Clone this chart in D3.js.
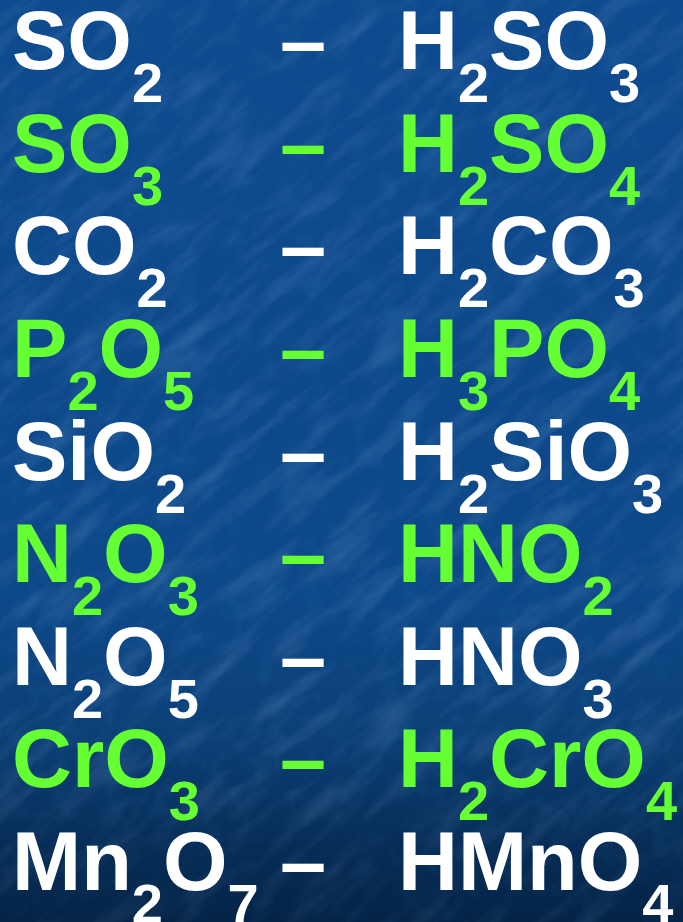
<!DOCTYPE html>
<html>
<head>
<meta charset="utf-8">
<script src="https://cdn.jsdelivr.net/npm/d3@7"></script>
<style>
  html, body { margin: 0; padding: 0; background: #0d4a8e; overflow: hidden; }
  #slide { width: 683px; height: 922px; }
  text { font-family: "Liberation Sans", Arial, sans-serif; font-weight: bold; }
</style>
</head>
<body>
<div id="slide"></div>
<script>
(function () {
// Oxide -> acid pairs, one per row
const oxides = ["SO2", "SO3", "CO2", "P2O5", "SiO2", "N2O3", "N2O5", "CrO3", "Mn2O7"];
const acids  = ["H2SO3", "H2SO4", "H2CO3", "H3PO4", "H2SiO3", "HNO2", "HNO3", "H2CrO4", "HMnO4"];
const highlighted = [false, true, false, true, false, true, false, true, false];

const width = 683, height = 922;
const mainSize = 83, subSize = 56, subShift = 33;
const white = "#ffffff", green = "#66ff33";

const svg = d3.select("#slide").append("svg")
  .attr("width", width)
  .attr("height", height)
  .attr("viewBox", `0 0 ${width} ${height}`);

const defs = svg.append("defs");

// background: blue, darker towards the bottom
const grad = defs.append("linearGradient")
  .attr("id", "bg").attr("x1", 0).attr("y1", 0).attr("x2", 0).attr("y2", 1);
grad.append("stop").attr("offset", "0%").attr("stop-color", "#0e4a8e");
grad.append("stop").attr("offset", "65%").attr("stop-color", "#0d4888");
grad.append("stop").attr("offset", "82%").attr("stop-color", "#0b3e74");
grad.append("stop").attr("offset", "100%").attr("stop-color", "#062c55");

// streaky paper texture (light flecks)
const f = defs.append("filter").attr("id", "tex")
  .attr("x", 0).attr("y", 0).attr("width", 1).attr("height", 1);
f.append("feTurbulence")
  .attr("type", "fractalNoise")
  .attr("baseFrequency", "0.012 0.05")
  .attr("numOctaves", 4)
  .attr("seed", 7);
f.append("feColorMatrix").attr("type", "matrix")
  .attr("values", "0 0 0 0 0.4  0 0 0 0 0.6  0 0 0 0 0.95  2.4 0 0 0 -1.1");

// mottled darker patches
const f2 = defs.append("filter").attr("id", "tex2")
  .attr("x", 0).attr("y", 0).attr("width", 1).attr("height", 1);
f2.append("feTurbulence")
  .attr("type", "fractalNoise")
  .attr("baseFrequency", "0.04 0.04")
  .attr("numOctaves", 3)
  .attr("seed", 3);
f2.append("feColorMatrix").attr("type", "matrix")
  .attr("values", "0 0 0 0 0.02  0 0 0 0 0.14  0 0 0 0 0.35  -2.2 0 0 0 1.05");

svg.append("rect").attr("width", width).attr("height", height).attr("fill", "url(#bg)");

const gTex = svg.append("g").attr("transform", `rotate(-40 ${width / 2} ${height / 2})`);
gTex.append("rect")
  .attr("x", -400).attr("y", -300).attr("width", width + 800).attr("height", height + 600)
  .attr("filter", "url(#tex)")
  .attr("opacity", 0.16);
svg.append("rect").attr("width", width).attr("height", height)
  .attr("filter", "url(#tex2)").attr("opacity", 0.3);

// bottom darkening on top of texture
const shade = defs.append("linearGradient")
  .attr("id", "shade").attr("x1", 0).attr("y1", 0).attr("x2", 0).attr("y2", 1);
shade.append("stop").attr("offset", "0%").attr("stop-color", "#021a36").attr("stop-opacity", 0);
shade.append("stop").attr("offset", "80%").attr("stop-color", "#021a36").attr("stop-opacity", 0);
shade.append("stop").attr("offset", "100%").attr("stop-color", "#021a36").attr("stop-opacity", 0.45);
svg.append("rect").attr("width", width).attr("height", height).attr("fill", "url(#shade)");

// row baselines
const y = d3.scaleLinear().domain([0, oxides.length - 1]).range([69, 890]);

// split a formula into element / subscript pieces
function parts(formula) {
  return formula.match(/[A-Za-z]+|\d+/g).map(s => ({ s, sub: /\d/.test(s) }));
}

function writeFormula(sel, formula) {
  let shifted = false;
  parts(formula).forEach(p => {
    const t = sel.append("tspan").text(p.s);
    if (p.sub) {
      t.attr("font-size", subSize).attr("dy", shifted ? 0 : subShift);
      shifted = true;
    } else {
      t.attr("font-size", mainSize).attr("dy", shifted ? -subShift : 0);
      shifted = false;
    }
  });
}

const rows = svg.append("g").selectAll("g.row")
  .data(oxides.map((o, i) => ({ oxide: o, acid: acids[i], hl: highlighted[i], i })))
  .enter().append("g")
  .attr("class", "row")
  .attr("fill", d => d.hl ? green : white);

rows.append("text")
  .attr("x", 12)
  .attr("y", d => y(d.i))
  .each(function (d) { writeFormula(d3.select(this), d.oxide); });

rows.append("text")
  .attr("x", 280)
  .attr("y", d => y(d.i))
  .attr("font-size", mainSize)
  .text("\u2013");

rows.append("text")
  .attr("x", 398)
  .attr("y", d => y(d.i))
  .each(function (d) { writeFormula(d3.select(this), d.acid); });

})();
</script>
</body>
</html>
